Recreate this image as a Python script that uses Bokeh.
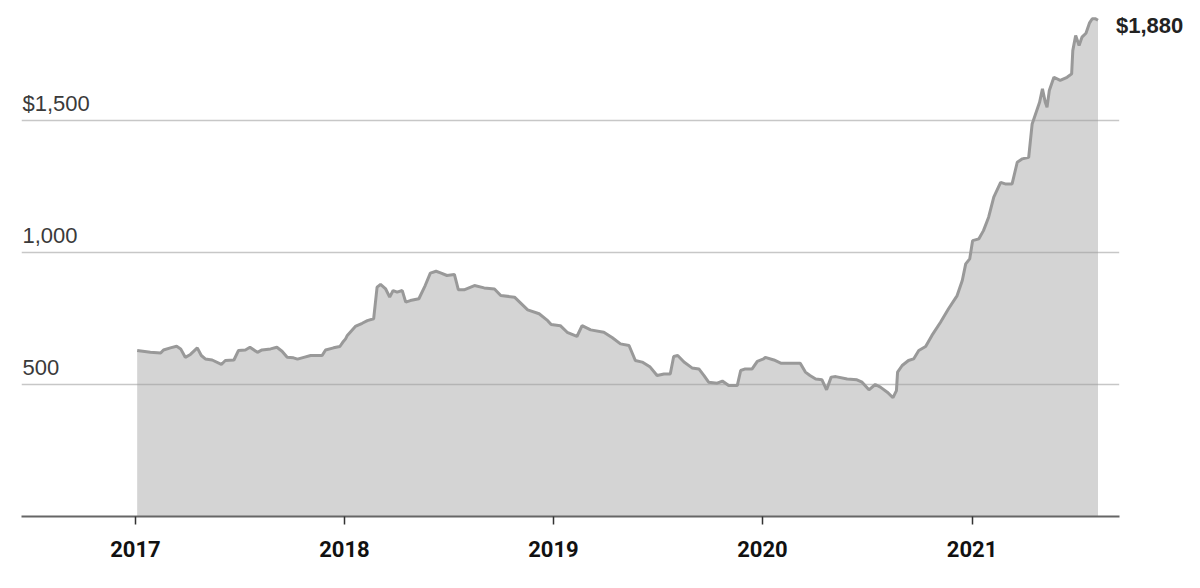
import pandas as pd
from bokeh.plotting import figure
from bokeh.models import Range1d, Label, FixedTicker, DatetimeTickFormatter
from bokeh.embed import file_html
from bokeh.resources import INLINE

dates = [
    "2017-01-04", "2017-01-27", "2017-02-14", "2017-02-19", "2017-03-03", "2017-03-14",
    "2017-03-21", "2017-03-29", "2017-04-07", "2017-04-19", "2017-04-26", "2017-05-03",
    "2017-05-15", "2017-05-31", "2017-06-07", "2017-06-22", "2017-06-30", "2017-07-12",
    "2017-07-20", "2017-08-02", "2017-08-10", "2017-08-25", "2017-09-05", "2017-09-14",
    "2017-09-23", "2017-10-04", "2017-10-11", "2017-10-22", "2017-11-03", "2017-11-23",
    "2017-11-29", "2017-12-13", "2017-12-24", "2017-12-29",
    "2018-01-03", "2018-01-06", "2018-01-20", "2018-02-01", "2018-02-10", "2018-02-21",
    "2018-02-27", "2018-03-05", "2018-03-14", "2018-03-21", "2018-03-27", "2018-04-03",
    "2018-04-12", "2018-04-18", "2018-04-26", "2018-05-11", "2018-05-22", "2018-05-31",
    "2018-06-10", "2018-06-19", "2018-06-29", "2018-07-12", "2018-07-19", "2018-07-29",
    "2018-08-16", "2018-09-02", "2018-09-20", "2018-10-01", "2018-10-25", "2018-11-17",
    "2018-12-07", "2018-12-22", "2018-12-28",
    "2019-01-13", "2019-01-25", "2019-02-11", "2019-02-20", "2019-03-07", "2019-03-30",
    "2019-04-14", "2019-04-28", "2019-05-13", "2019-05-24", "2019-06-05", "2019-06-19",
    "2019-07-01", "2019-07-13", "2019-07-24", "2019-07-30", "2019-08-06", "2019-08-17",
    "2019-08-31", "2019-09-12", "2019-09-21", "2019-09-29", "2019-10-14", "2019-10-23",
    "2019-11-03", "2019-11-18", "2019-11-24", "2019-12-02", "2019-12-14", "2019-12-23",
    "2020-01-03", "2020-01-06", "2020-01-21", "2020-02-02", "2020-03-07", "2020-03-16",
    "2020-03-24", "2020-04-03", "2020-04-14", "2020-04-22", "2020-04-30", "2020-05-08",
    "2020-05-28", "2020-06-14", "2020-06-23", "2020-07-05", "2020-07-16", "2020-07-25",
    "2020-08-06", "2020-08-16", "2020-08-22", "2020-08-24", "2020-09-01", "2020-09-12",
    "2020-09-21", "2020-09-30", "2020-10-12", "2020-10-23", "2020-11-07", "2020-11-21",
    "2020-12-06", "2020-12-15", "2020-12-21", "2020-12-28",
    "2021-01-02", "2021-01-13", "2021-01-21", "2021-01-30", "2021-02-08", "2021-02-20",
    "2021-02-28", "2021-03-12", "2021-03-21", "2021-03-30", "2021-04-10", "2021-04-16",
    "2021-04-22", "2021-04-29", "2021-05-04", "2021-05-09", "2021-05-12", "2021-05-16",
    "2021-05-24", "2021-06-04", "2021-06-16", "2021-06-24", "2021-06-26", "2021-07-01",
    "2021-07-07", "2021-07-12", "2021-07-19", "2021-07-25", "2021-07-30", "2021-08-04",
    "2021-08-09",
]

values = [
    629, 622, 619, 631, 639, 645,
    635, 603, 614, 639, 610, 597,
    593, 576, 591, 593, 629, 631,
    641, 622, 631, 635, 641, 626,
    603, 601, 596, 603, 610, 610,
    631, 639, 644, 660,
    673, 686, 720, 732, 742, 749,
    869, 879, 862, 831, 856, 850,
    856, 812, 818, 825, 875, 922,
    929, 922, 913, 917, 859, 859,
    875, 866, 862, 837, 831, 783,
    768, 742, 727,
    723, 698, 682, 723, 707, 698,
    677, 654, 648, 591, 585, 566,
    534, 540, 540, 606, 610, 585,
    563, 559, 534, 509, 505, 513,
    496, 496, 553, 559, 559, 588,
    597, 603, 593, 581, 581, 547,
    534, 521, 518, 480, 528, 530,
    521, 518, 509, 480, 500, 490,
    471, 450, 477, 547, 572, 591,
    597, 629, 644, 686, 736, 787,
    837, 894, 957, 976,
    1045, 1052, 1083, 1134, 1210, 1266,
    1260, 1260, 1342, 1355, 1361, 1487,
    1525, 1569, 1620, 1569, 1550, 1614,
    1664, 1652, 1664, 1677, 1765, 1822,
    1784, 1816, 1831, 1869, 1886, 1886,
    1880,
]

year_ticks = ["2017-01-01", "2018-01-01", "2019-01-01", "2020-01-01", "2021-01-01"]
grid_values = [500, 1000, 1500]
grid_labels = ["500", "1,000", "$1,500"]
end_label = "$1,880"

x = pd.to_datetime(dates)
tick_ms = [pd.Timestamp(t).value / 1e6 for t in year_ticks]

# layout (pixels / range extents)
W, H = 1195, 582
LEFT, TOP, FRAME_BOTTOM = 21, 10, 516
px_per_day = 0.5726
x_start = pd.Timestamp("2016-06-16")
x_end = x_start + pd.Timedelta(days=(W - LEFT) / px_per_day)
axis_end = pd.Timestamp("2021-09-15")

p = figure(width=W, height=H, x_axis_type="datetime",
           x_range=Range1d(x_start, x_end), y_range=Range1d(0, 1917),
           y_axis_location=None, toolbar_location=None, output_backend="svg",
           min_border_left=LEFT, min_border_right=0, min_border_top=TOP,
           min_border_bottom=H - FRAME_BOTTOM)
p.outline_line_color = None
p.background_fill_color = "white"
p.border_fill_color = "white"
p.xgrid.visible = False
p.ygrid.visible = False

p.varea(x=x, y1=0, y2=values, fill_color="#d4d4d4")
p.line(x=x, y=values, line_color="#999999", line_width=3)

# horizontal gridlines over the area, ending where the axis ends
p.segment(x0=[x_start] * len(grid_values), x1=[axis_end] * len(grid_values),
          y0=grid_values, y1=grid_values, line_color="#999999", line_alpha=0.55,
          line_width=1.5)

for gv, gl in zip(grid_values, grid_labels):
    p.add_layout(Label(x=x_start, y=gv, text=gl, y_offset=17, x_offset=1,
                       text_font="Liberation Sans", text_font_size="22px",
                       text_color="#3a3a3a", text_baseline="alphabetic"))

p.add_layout(Label(x=x[-1], y=values[-1], text=end_label, x_offset=18, y_offset=-5,
                   text_font="Liberation Sans", text_font_size="22px",
                   text_font_style="bold", text_color="#222222", text_baseline="middle"))

ax = p.xaxis[0]
ax.bounds = (x_start, axis_end)
ax.ticker = FixedTicker(ticks=tick_ms)
ax.formatter = DatetimeTickFormatter(years="%Y", months="%Y", days="%Y")
ax.axis_line_color = "#666666"
ax.axis_line_width = 2
ax.major_tick_in = 0
ax.major_tick_out = 8
ax.major_tick_line_color = "#333333"
ax.major_tick_line_width = 1.5
ax.minor_tick_line_color = None
ax.major_label_standoff = 16
ax.major_label_text_font = "Roboto"
ax.major_label_text_font_style = "bold"
ax.major_label_text_font_size = "22px"
ax.major_label_text_color = "#111111"

open("out.html", "w").write(file_html(p, INLINE))
